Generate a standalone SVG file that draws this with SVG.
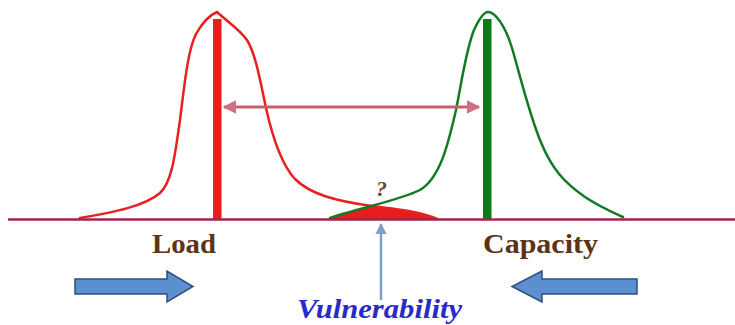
<svg xmlns="http://www.w3.org/2000/svg" width="735" height="325" viewBox="0 0 735 325">
  <defs>
    <marker id="mh" viewBox="0 0 10 10" refX="9" refY="5" markerWidth="4.5" markerHeight="4.5" orient="auto-start-reverse" markerUnits="strokeWidth">
      <path d="M0,0 L10,5 L0,10 Z" fill="#d07080"/>
    </marker>
    <marker id="vb" viewBox="0 0 10 10" refX="9" refY="5" markerWidth="4.5" markerHeight="4.5" orient="auto" markerUnits="strokeWidth">
      <path d="M0,0 L10,5 L0,10 Z" fill="#7f9ec8"/>
    </marker>
  </defs>
  <style>
    .lbl { font-family: "Liberation Serif", "Times New Roman", serif; font-weight: bold; font-size: 28px; fill: #5c3317; }
    .vul { font-family: "Liberation Serif", "Times New Roman", serif; font-weight: bold; font-style: italic; font-size: 28px; fill: #2a2ac8; }
    .q { font-family: "Liberation Serif", "Times New Roman", serif; font-weight: bold; font-style: italic; font-size: 22px; fill: #6a4a2a; }
    .curve { fill: none; stroke-width: 2.5; stroke-linejoin: round; stroke-linecap: round; }
    .bigarrow { fill: #5b8fd0; stroke: #2f4f7a; stroke-width: 1.5; }
  </style>
  <rect width="735" height="325" fill="#ffffff"/>

  <g id="overlap">
    <path d="M330,219 C350,212 360,208 372,206 C398,209 422,212 437,219 Z" fill="#e81c1c"/>
  </g>

  <g id="load-curve">
    <path class="curve" stroke="#e82020" d="M80,218 C115,212 145,206 160,193 C172,182 175,155 180,120 C185,80 188,50 196,34 C204,20 212,14 217,12 C228,22 240,30 247,40 C256,55 260,80 266,108 C272,135 282,165 295,179 C310,194 335,201 372,206 C398,209 422,212 437,219"/>
    <rect x="213" y="19" width="8.5" height="201" fill="#ee1c1c"/>
  </g>

  <g id="capacity-curve">
    <path class="curve" stroke="#127a24" d="M330,218 C360,208 400,200 420,190 C440,178 448,145 456,110 C462,80 466,50 474,30 C480,17 484,12 488,12 C495,12 505,25 512,48 C520,75 528,110 540,140 C552,170 565,183 585,197 C600,207 612,212 623,217"/>
    <rect x="483" y="19" width="8.5" height="201" fill="#0b7a1b"/>
  </g>

  <g id="connectors">
    <line x1="8" y1="219.5" x2="735" y2="219.5" stroke="#a0244c" stroke-width="2.5"/>
    <line x1="224" y1="107" x2="479" y2="107" stroke="#c8606c" stroke-width="3" marker-start="url(#mh)" marker-end="url(#mh)"/>
    <line x1="381" y1="300" x2="381" y2="224" stroke="#7f9ec8" stroke-width="2.5" marker-end="url(#vb)"/>
  </g>

  <g id="load-arrow">
    <polygon class="bigarrow" points="75,279 167,279 167,271 193,286.5 167,302 167,294 75,294"/>
  </g>
  <g id="capacity-arrow">
    <polygon class="bigarrow" points="637,279 542,279 542,271 512,286.5 542,302 542,294 637,294"/>
  </g>

  <g id="labels">
    <text class="q" x="376" y="196">?</text>
    <text class="lbl" x="152" y="253" textLength="64" lengthAdjust="spacingAndGlyphs">Load</text>
    <text class="lbl" x="483" y="253" textLength="115" lengthAdjust="spacingAndGlyphs">Capacity</text>
    <text class="vul" x="297" y="318" textLength="165" lengthAdjust="spacingAndGlyphs">Vulnerability</text>
  </g>
</svg>
